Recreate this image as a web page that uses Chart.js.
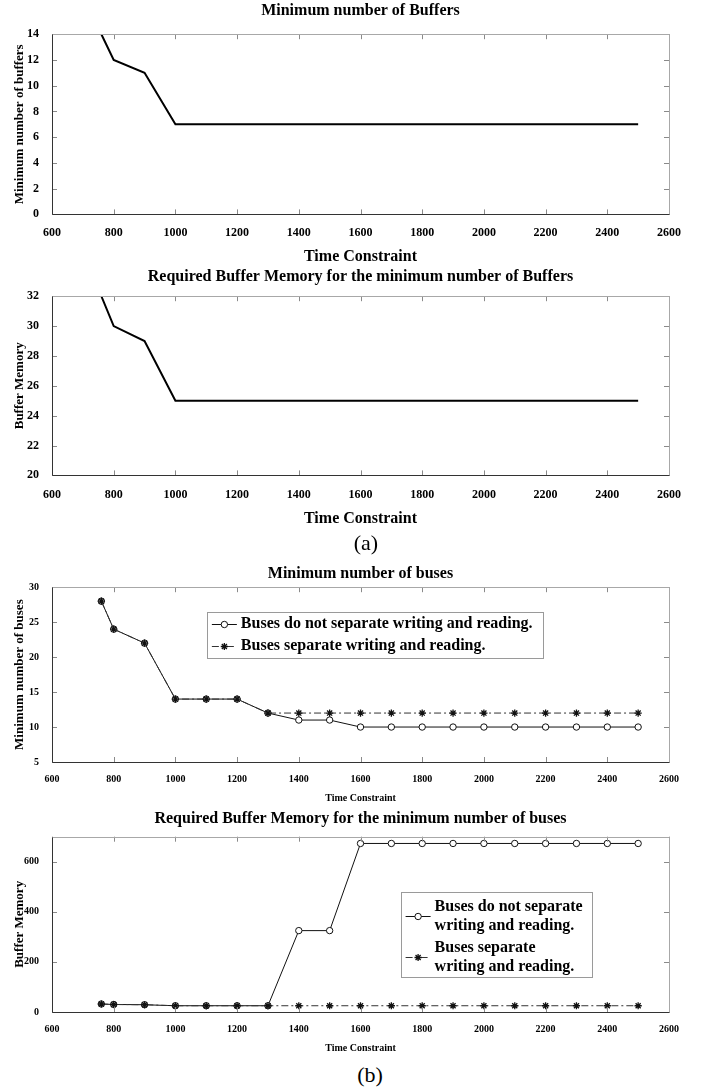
<!DOCTYPE html>
<html>
<head>
<meta charset="utf-8">
<title>Buffers and buses</title>
<script src="https://cdn.jsdelivr.net/npm/chart.js@4/dist/chart.umd.min.js"></script>
<style>
    html, body { margin: 0; padding: 0; background: #fff; }
    #page { position: relative; width: 711px; height: 1089px; overflow: hidden; background: #fff; }
    .box { position: absolute; left: 0; width: 690px; }
    .cap {
        position: absolute; width: 60px; text-align: center;
        font-family: "Liberation Serif", "Times New Roman", serif;
        font-size: 22px; line-height: 26px; color: #000;
    }
</style>
</head>
<body>
<div id="page">
    <div class="box" style="top:0px;height:269px"><canvas id="chartBuffers"></canvas></div>
    <div class="box" style="top:265px;height:266px"><canvas id="chartBufferMemory"></canvas></div>
    <div class="cap" style="left:336px;top:530px">(a)</div>
    <div class="box" style="top:563px;height:243px"><canvas id="chartBuses"></canvas></div>
    <div class="box" style="top:808px;height:248px"><canvas id="chartBusMemory"></canvas></div>
    <div class="cap" style="left:340px;top:1062px">(b)</div>
</div>

<script>
/* ==========================================================
   Data
==========================================================*/

const timeConstraint = [760, 800, 900, 1000, 1100, 1200, 1300, 1400, 1500, 1600,
                        1700, 1800, 1900, 2000, 2100, 2200, 2300, 2400, 2500];

const minBuffers     = [14, 12, 11, 7, 7, 7, 7, 7, 7, 7, 7, 7, 7, 7, 7, 7, 7, 7, 7];
const bufferMemory   = [32, 30, 29, 25, 25, 25, 25, 25, 25, 25, 25, 25, 25, 25, 25, 25, 25, 25, 25];

const busesShared    = [28, 24, 22, 14, 14, 14, 12, 11, 11, 10, 10, 10, 10, 10, 10, 10, 10, 10, 10];
const busesSeparate  = [28, 24, 22, 14, 14, 14, 12, 12, 12, 12, 12, 12, 12, 12, 12, 12, 12, 12, 12];

const memoryShared   = [32, 30, 29, 25, 25, 25, 25, 325, 325, 673, 673, 673, 673, 673, 673, 673, 673, 673, 673];
const memorySeparate = [32, 30, 29, 25, 25, 25, 25, 25, 25, 25, 25, 25, 25, 25, 25, 25, 25, 25, 25];

const seriesNames = [
    "Buses do not separate writing and reading.",
    "Buses separate writing and reading."
];

const wrappedNames = [
    ["Buses do not separate", "writing and reading."],
    ["Buses separate", "writing and reading."]
];

const xAxisRange = [600, 2600, 200];

const serif = "'Liberation Serif', 'Times New Roman', serif";

Chart.defaults.font.family = serif;
Chart.defaults.font.weight = "bold";
Chart.defaults.color = "#000";

// =====================================
// Helpers
// =====================================

function points(values) {

    return timeConstraint.map((t, i) => ({ x: t, y: values[i] }));

}

// plain numbers, no thousands separator
function plainTick(value) {

    return String(value);

}

// inward tick marks on all four sides + axes box
const framePlugin = {

    id: "frame",

    afterDatasetsDraw(chart) {

        const { ctx, chartArea: a, scales } = chart;

        const len = 5;

        ctx.save();

        ctx.lineWidth = 1;

        ctx.strokeStyle = "#8a8a8a";

        ctx.beginPath();

        scales.x.ticks.forEach(tick => {

            const px = Math.round(scales.x.getPixelForValue(tick.value)) + 0.5;

            ctx.moveTo(px, a.bottom);
            ctx.lineTo(px, a.bottom - len);

            ctx.moveTo(px, a.top);
            ctx.lineTo(px, a.top + len);

        });

        scales.y.ticks.forEach(tick => {

            const py = Math.round(scales.y.getPixelForValue(tick.value)) + 0.5;

            ctx.moveTo(a.left, py);
            ctx.lineTo(a.left + len, py);

            ctx.moveTo(a.right, py);
            ctx.lineTo(a.right - len, py);

        });

        ctx.stroke();

        const l = Math.round(a.left) + 0.5;
        const r = Math.round(a.right) + 0.5;
        const t = Math.round(a.top) + 0.5;
        const b = Math.round(a.bottom) + 0.5;

        ctx.strokeStyle = "#a8a8a8";

        ctx.beginPath();
        ctx.moveTo(l, t);
        ctx.lineTo(r, t);
        ctx.lineTo(r, b);
        ctx.stroke();

        ctx.strokeStyle = "#333";

        ctx.beginPath();
        ctx.moveTo(l, t);
        ctx.lineTo(l, b);
        ctx.lineTo(r, b);
        ctx.stroke();

        ctx.restore();

    }

};

// boxed legend placed inside the plot area
const boxLegendPlugin = {

    id: "boxLegend",

    afterDraw(chart) {

        const opt = chart.options.plugins.boxLegend;

        if (!opt || !opt.entries) return;

        const { ctx, chartArea: a } = chart;

        const left = a.left + opt.left * (a.right - a.left);

        const top = a.top + opt.top * (a.bottom - a.top);

        ctx.save();

        ctx.font = "bold " + opt.fontSize + "px " + serif;

        let textWidth = 0;

        opt.entries.forEach(lines => lines.forEach(line => {

            textWidth = Math.max(textWidth, ctx.measureText(line).width);

        }));

        const rows = [];

        let y = opt.padTop;

        opt.entries.forEach(lines => {

            const ys = lines.map((line, j) => y + j * opt.lineStep);

            rows.push(ys);

            y = ys[ys.length - 1] + opt.lineStep + opt.entryGap;

        });

        const lastRow = rows[rows.length - 1];

        const height = lastRow[lastRow.length - 1] + opt.padBottom;

        const width = opt.textX + textWidth + opt.padRight;

        ctx.fillStyle = "#fff";
        ctx.fillRect(left, top, width, height);

        ctx.strokeStyle = "#9a9a9a";
        ctx.lineWidth = 1;
        ctx.strokeRect(Math.round(left) + 0.5, Math.round(top) + 0.5, Math.round(width), Math.round(height));

        opt.entries.forEach((lines, i) => {

            const ds = chart.data.datasets[i];

            const ys = rows[i];

            const cy = Math.round(top + (ys[0] + ys[ys.length - 1]) / 2) + 0.5;

            const x0 = left + opt.sampleX;

            const x1 = x0 + opt.sampleLen;

            ctx.strokeStyle = ds.borderColor;
            ctx.lineWidth = ds.borderWidth;
            ctx.setLineDash(ds.borderDash || []);

            ctx.beginPath();
            ctx.moveTo(x0, cy);
            ctx.lineTo(x1, cy);
            ctx.stroke();

            ctx.setLineDash([]);

            ctx.fillStyle = ds.pointBackgroundColor || "#000";
            ctx.strokeStyle = ds.pointBorderColor || "#000";
            ctx.lineWidth = ds.pointBorderWidth || 1;

            if (Chart.helpers && Chart.helpers.drawPoint) {

                Chart.helpers.drawPoint(ctx, {
                    pointStyle: ds.pointStyle,
                    radius: ds.pointRadius,
                    borderWidth: ds.pointBorderWidth || 1,
                    rotation: 0
                }, (x0 + x1) / 2, cy);

            }

            ctx.fillStyle = "#000";
            ctx.textBaseline = "middle";
            ctx.textAlign = "left";

            lines.forEach((line, j) => ctx.fillText(line, left + opt.textX, top + ys[j]));

        });

        ctx.restore();

    }

};

// =====================================
// Chart builder
// =====================================

function makeChart(id, cfg) {

    const canvas = document.getElementById(id);

    if (!canvas) return null;

    return new Chart(canvas, {

        type: "line",

        data: { datasets: cfg.datasets },

        options: {

            responsive: true,

            maintainAspectRatio: false,

            animation: false,

            layout: { padding: { left: 0, right: 21, top: 0, bottom: 0 } },

            plugins: {

                legend: { display: false },

                tooltip: { enabled: false },

                title: {
                    display: true,
                    text: cfg.title,
                    fullSize: false,
                    color: "#000",
                    font: { size: 16, weight: "bold" },
                    padding: cfg.titlePadding
                },

                boxLegend: cfg.legend || false

            },

            scales: {

                x: {
                    type: "linear",
                    min: xAxisRange[0],
                    max: xAxisRange[1],
                    grid: { display: false },
                    border: { display: false },
                    ticks: {
                        stepSize: xAxisRange[2],
                        autoSkip: false,
                        maxRotation: 0,
                        padding: cfg.xTickPadding,
                        color: "#000",
                        font: { size: cfg.tickSize, weight: "bold" },
                        callback: plainTick
                    },
                    title: {
                        display: true,
                        text: "Time Constraint",
                        color: "#000",
                        font: { size: cfg.xTitleSize, weight: "bold" },
                        padding: cfg.xTitlePadding
                    }
                },

                y: {
                    min: cfg.yRange[0],
                    max: cfg.yRange[1],
                    grid: { display: false },
                    border: { display: false },
                    afterFit(scale) {
                        scale.width = 52;
                    },
                    ticks: {
                        stepSize: cfg.yRange[2],
                        includeBounds: false,
                        padding: 5,
                        color: "#000",
                        font: { size: cfg.tickSize, weight: "bold" },
                        callback: plainTick
                    },
                    title: {
                        display: true,
                        text: cfg.yTitle,
                        color: "#000",
                        font: { size: 13, weight: "bold" },
                        padding: { top: 12, bottom: 0 }
                    }
                }

            }

        },

        plugins: [framePlugin, boxLegendPlugin]

    });

}

function thickLine(values) {

    return {
        data: points(values),
        borderColor: "#000",
        borderWidth: 2,
        pointRadius: 0,
        tension: 0
    };

}

function busSeries(shared, separate) {

    return [

        {
            label: seriesNames[0],
            data: points(shared),
            borderColor: "#111",
            borderWidth: 1,
            pointStyle: "circle",
            pointRadius: 3.2,
            pointBackgroundColor: "#fff",
            pointBorderColor: "#111",
            pointBorderWidth: 1,
            tension: 0,
            order: 1
        },

        {
            label: seriesNames[1],
            data: points(separate),
            borderColor: "#333",
            borderWidth: 1,
            borderDash: [7, 3, 2, 3],
            pointStyle: "star",
            pointRadius: 3.6,
            pointBackgroundColor: "#111",
            pointBorderColor: "#111",
            pointBorderWidth: 1.3,
            tension: 0,
            order: 0
        }

    ];

}

// =====================================
// The four panels
// =====================================

makeChart("chartBuffers", {
    title: "Minimum number of Buffers",
    titlePadding: { top: 1, bottom: 14 },
    datasets: [thickLine(minBuffers)],
    yTitle: "Minimum number of buffers",
    yRange: [0, 14, 2],
    tickSize: 12,
    xTickPadding: 3,
    xTitleSize: 16,
    xTitlePadding: { top: 4, bottom: 3 }
});

makeChart("chartBufferMemory", {
    title: "Required Buffer Memory for the minimum number of Buffers",
    titlePadding: { top: 2, bottom: 10 },
    datasets: [thickLine(bufferMemory)],
    yTitle: "Buffer Memory",
    yRange: [20, 32, 2],
    tickSize: 12,
    xTickPadding: 4,
    xTitleSize: 16,
    xTitlePadding: { top: 3, bottom: 3 }
});

makeChart("chartBuses", {
    title: "Minimum number of buses",
    titlePadding: { top: 1, bottom: 4 },
    datasets: busSeries(busesShared, busesSeparate),
    yTitle: "Minimum number of buses",
    yRange: [5, 30, 5],
    tickSize: 10,
    xTickPadding: 3,
    xTitleSize: 10,
    xTitlePadding: { top: 4, bottom: 2 },
    legend: {
        entries: seriesNames.map(name => [name]),
        left: 0.251,
        top: 0.14,
        fontSize: 16,
        padTop: 12.5,
        lineStep: 21.5,
        entryGap: 0,
        padBottom: 12,
        sampleX: 5,
        sampleLen: 25,
        textX: 34,
        padRight: 10
    }
});

makeChart("chartBusMemory", {
    title: "Required Buffer Memory for the minimum number of buses",
    titlePadding: { top: 1, bottom: 8.5 },
    datasets: busSeries(memoryShared, memorySeparate),
    yTitle: "Buffer Memory",
    yRange: [0, 700, 200],
    tickSize: 10,
    xTickPadding: 3,
    xTitleSize: 10,
    xTitlePadding: { top: 4, bottom: 2 },
    legend: {
        entries: wrappedNames,
        left: 0.565,
        top: 0.318,
        fontSize: 16,
        padTop: 14,
        lineStep: 19.5,
        entryGap: 2,
        padBottom: 10,
        sampleX: 5,
        sampleLen: 25,
        textX: 34,
        padRight: 9
    }
});
</script>
</body>
</html>
